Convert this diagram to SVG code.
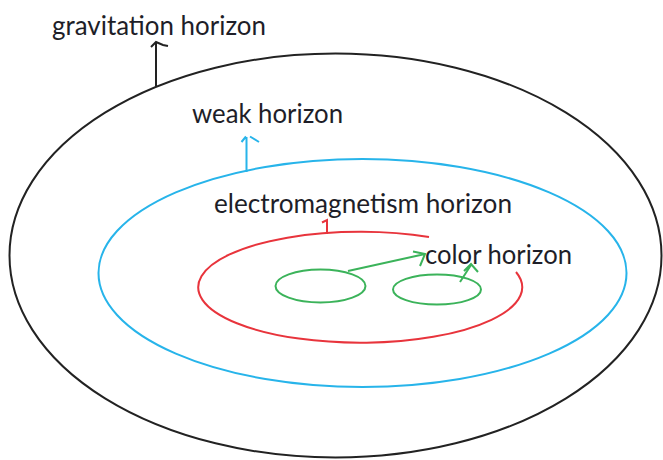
<svg xmlns="http://www.w3.org/2000/svg" width="663" height="460" viewBox="0 0 663 460">
<style>
.lbl{font-family:Lato,"Open Sans","Liberation Sans",sans-serif;font-size:27px;fill:#1e1e28}
.k{stroke:#222;fill:none;stroke-width:2}
.b{stroke:#27b4ea;fill:none;stroke-width:2}
.r{stroke:#e8343c;fill:none;stroke-width:2}
.g{stroke:#3bb35a;fill:none;stroke-width:2}
</style>
<rect width="663" height="460" fill="#fff"/>
<g id="gravitation">
<ellipse class="k" cx="335.5" cy="255.5" rx="326" ry="202"/>
<text class="lbl" x="52" y="35" textLength="214" lengthAdjust="spacingAndGlyphs">gravitation horizon</text>
</g>
<g id="weak">
<ellipse class="b" cx="362.5" cy="273" rx="264" ry="114"/>
<text class="lbl" x="192" y="123" textLength="151" lengthAdjust="spacingAndGlyphs">weak horizon</text>
</g>
<g id="electromagnetism">
<path class="r" d="M516,272 A162,55.5 0 1 1 429,237"/>
<text class="lbl" x="214" y="213" textLength="298" lengthAdjust="spacingAndGlyphs">electromagnetism horizon</text>
</g>
<g id="color">
<ellipse class="g" cx="320.5" cy="286" rx="45" ry="16.5"/>
<ellipse class="g" cx="437" cy="289.5" rx="44" ry="15"/>
<text class="lbl" x="425" y="264" textLength="147" lengthAdjust="spacingAndGlyphs">color horizon</text>
</g>
<g id="connectors">
<path class="k" d="M156,86 L156,43 M151,47 L156,42 L163,45 L168,46"/>
<path class="b" d="M246.5,172 L246.5,137 M241.5,142 L246,136.5 M250,136.5 L259,142"/>
<path class="r" d="M327,234 L327,220 L322,222.5"/>
<path class="g" d="M348,271 L425,254 M413,251.5 L425,254 L420,266"/>
<path class="g" d="M460,282 L471,265 M464,271 L471,264 L478,272"/>
</g>
</svg>
